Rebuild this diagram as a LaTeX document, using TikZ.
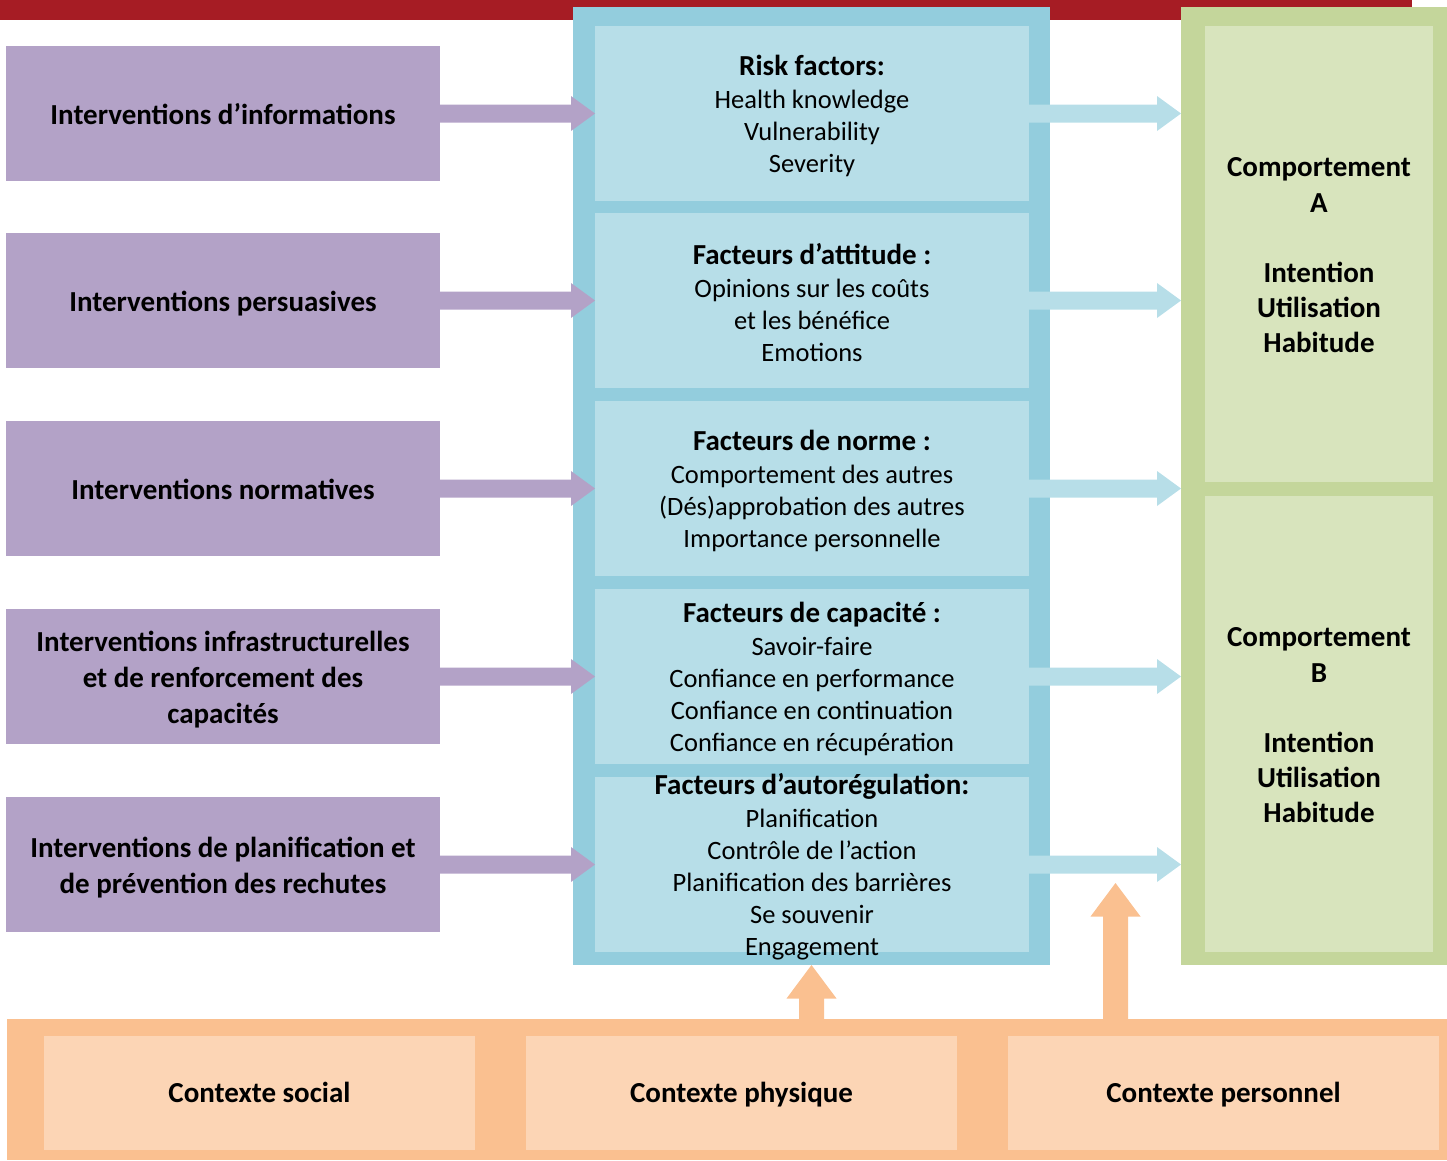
\documentclass[tikz,border=0pt]{standalone}
\usepackage{fontspec}
\setmainfont{Carlito}
\usetikzlibrary{calc}

\definecolor{barred}{HTML}{A61C24}
\definecolor{purp}{HTML}{B3A2C7}
\definecolor{blueout}{HTML}{93CDDD}
\definecolor{bluein}{HTML}{B7DEE8}
\definecolor{greenout}{HTML}{C4D69B}
\definecolor{greenin}{HTML}{D8E4BD}
\definecolor{orout}{HTML}{FAC090}
\definecolor{orin}{HTML}{FCD5B5}

% horizontal block arrow: colour, start point, end point (same height)
\newcommand\harrow[3]{%
  \fill[#1] let \p1=#2, \p2=#3 in
    (\x1,\y1+9pt) -- (\x2-24pt,\y1+9pt) -- (\x2-24pt,\y1+17.5pt) -- (\x2,\y1)
    -- (\x2-24pt,\y1-17.5pt) -- (\x2-24pt,\y1-9pt) -- (\x1,\y1-9pt) -- cycle;}
% vertical block arrow pointing up: colour, start point, tip
\newcommand\varrow[3]{%
  \fill[#1] let \p1=#2, \p2=#3 in
    (\x1-12.5pt,\y1) -- (\x1-12.5pt,\y2-33.5pt) -- (\x1-25pt,\y2-33.5pt) -- (\x2,\y2)
    -- (\x1+25pt,\y2-33.5pt) -- (\x1+12.5pt,\y2-33.5pt) -- (\x1+12.5pt,\y1) -- cycle;}

\newcommand\ttl[1]{{\fontsize{29}{32}\selectfont\bfseries #1}}

\tikzset{
  box/.style={inner sep=0pt, outer sep=0pt, anchor=north west},
  purpbox/.style={box, fill=purp, minimum width=434pt, minimum height=135pt},
  blbox/.style={box, fill=bluein, minimum width=434pt, minimum height=175pt},
  grbox/.style={box, fill=greenin, minimum width=228pt, minimum height=456pt},
  orbox/.style={box, fill=orin, minimum width=431pt, minimum height=114pt},
  purplabel/.style={align=center, font=\fontsize{29}{36}\selectfont\bfseries},
  bllabel/.style={align=center, font=\fontsize{26.5}{32}\selectfont},
  grlabel/.style={align=center, font=\fontsize{29}{35.2}\selectfont\bfseries},
  orlabel/.style={anchor=base, font=\fontsize{29}{35}\selectfont\bfseries},
}

\begin{document}
\begin{tikzpicture}[x=1pt,y=-1pt]
\useasboundingbox (0,0) rectangle (1447,1160);

% title band
\fill[barred] (0,0) rectangle (1412,20);

% frames
\node[box, fill=blueout, minimum width=477pt, minimum height=958pt] (bout) at (573,7) {};
\node[box, fill=greenout, minimum width=266pt, minimum height=958pt] (gout) at (1181,7) {};
\node[box, fill=orout, minimum width=1440pt, minimum height=141pt] (band) at (7,1019) {};

% interventions
\node[purpbox] (p1) at (6,46) {};
\node[purpbox] (p2) at (6,233) {};
\node[purpbox] (p3) at (6,421) {};
\node[purpbox] (p4) at (6,609) {};
\node[purpbox] (p5) at (6,797) {};
\node[purplabel, anchor=base] at ($(p1.center)+(0,11)$) {Interventions d’informations};
\node[purplabel, anchor=base] at ($(p2.center)+(0,11)$) {Interventions persuasives};
\node[purplabel, anchor=base] at ($(p3.center)+(0,11)$) {Interventions normatives};
\node[purplabel] at ($(p4.center)+(0,3.5)$) {Interventions infrastructurelles\\et de renforcement des\\capacités};
\node[purplabel] at ($(p5.center)+(0,3)$) {Interventions de planification et\\de prévention des rechutes};

% determinants
\node[blbox] (b1) at (595,26) {};
\node[blbox] (b2) at (595,213) {};
\node[blbox] (b3) at (595,401) {};
\node[blbox] (b4) at (595,589) {};
\node[blbox] (b5) at (595,777) {};

% behaviours
\node[grbox] (g1) at (1205,26) {};
\node[grbox] (g2) at (1205,496) {};
\node[grlabel] at ($(g1.center)+(0,1.5)$) {Comportement\\A\\[35.2pt]Intention\\Utilisation\\Habitude};
\node[grlabel] at ($(g2.center)+(0,1.5)$) {Comportement\\B\\[35.2pt]Intention\\Utilisation\\Habitude};

% contexts
\node[orbox] (c1) at (44,1036) {};
\node[orbox] (c2) at (526,1036) {};
\node[orbox] (c3) at (1008,1036) {};
\node[orlabel] at ($(c1.center)+(0,9.5)$) {Contexte social};
\node[orlabel] at ($(c2.center)+(0,9.5)$) {Contexte physique};
\node[orlabel] at ($(c3.center)+(0,9.5)$) {Contexte personnel};

% arrows: interventions -> determinants
\foreach \i in {1,...,5}{
  \harrow{purp}{(p\i.east)}{(p\i.east -| b\i.west)}
}
% arrows: determinants -> behaviours
\foreach \i in {1,...,5}{
  \harrow{bluein}{(b\i.east)}{(b\i.east -| gout.west)}
}

% context arrows
\coordinate (ctip) at (1115.5,883);
\varrow{orout}{(bout.south |- band.north)}{(bout.south)}
\varrow{orout}{(ctip |- band.north)}{(ctip)}

% determinant texts
\node[bllabel] at ($(b1.center)+(0,2.5)$) {\ttl{Risk factors:}\\[1pt]Health knowledge\\Vulnerability\\Severity};
\node[bllabel] at ($(b2.center)+(0,2.5)$) {\ttl{Facteurs d’attitude :}\\[1pt]Opinions sur les coûts\\et les bénéfice\\Emotions};
\node[bllabel] at ($(b3.center)+(0,2.5)$) {\ttl{Facteurs de norme :}\\[1pt]Comportement des autres\\(Dés)approbation des autres\\Importance personnelle};
\node[bllabel] at ($(b4.center)+(0,2.5)$) {\ttl{Facteurs de capacité :}\\[1pt]Savoir-faire\\Confiance en performance\\Confiance en continuation\\Confiance en récupération};
\node[bllabel] at ($(b5.center)+(0,2.5)$) {\ttl{Facteurs d’autorégulation:}\\[1pt]Planification\\Contrôle de l’action\\Planification des barrières\\Se souvenir\\Engagement};
\end{tikzpicture}
\end{document}
